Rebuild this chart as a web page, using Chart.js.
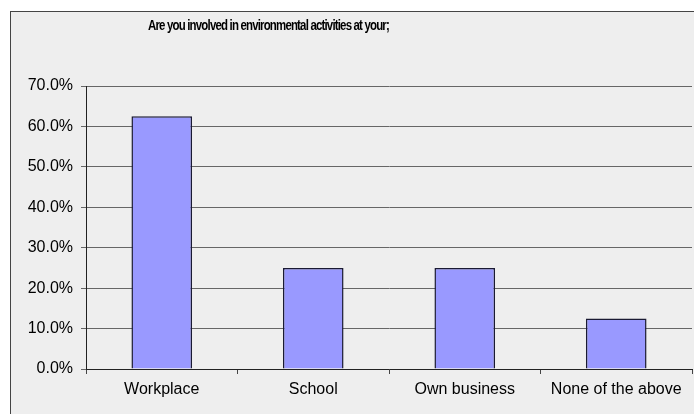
<!DOCTYPE html>
<html>
<head>
<meta charset="utf-8">
<script src="https://cdn.jsdelivr.net/npm/chart.js@4"></script>
<style>
  html, body { margin: 0; padding: 0; background: #fff; }
  #frame { position: absolute; left: 10px; top: 11px; width: 700px; height: 420px;
           border: 1px solid #444; background: #eeeeee; }
  #wrap { position: absolute; left: 0; top: 0; width: 694px; height: 414px; }
</style>
</head>
<body>
<div id="frame"></div>
<div id="wrap"><canvas id="chart"></canvas></div>
<script>
const TITLE = 'Are you involved in environmental activities at your;';
const categories = ['Workplace', 'School', 'Own business', 'None of the above'];
const shares = [62.5, 25.0, 25.0, 12.5];
const yTicks = [0, 10, 20, 30, 40, 50, 60, 70];

// the original title is a tightly spaced bold face, so draw it by hand
const tightTitle = {
  id: 'tightTitle',
  afterDraw(chart) {
    const c = chart.ctx;
    c.save();
    c.font = 'bold 14px Arial, "Liberation Sans", sans-serif';
    c.letterSpacing = '-1px';
    c.fillStyle = '#000';
    c.textBaseline = 'middle';
    const w = c.measureText(TITLE).width;
    c.translate(148, 26);
    c.scale(Math.min(1, 241 / w), 1);
    c.fillText(TITLE, 0, 0);
    c.restore();
  }
};

const ctx = document.getElementById('chart').getContext('2d');
new Chart(ctx, {
  type: 'bar',
  data: {
    labels: categories,
    datasets: [{
      data: shares,
      backgroundColor: '#9999ff',
      borderColor: '#1a1a33',
      borderWidth: 1.5,
      categoryPercentage: 1,
      barPercentage: 0.4
    }]
  },
  options: {
    responsive: true,
    maintainAspectRatio: false,
    animation: false,
    layout: { padding: { left: 0, right: 2, top: 86, bottom: 0 } },
    plugins: {
      legend: { display: false },
      tooltip: { enabled: false },
      title: { display: false }
    },
    scales: {
      x: {
        grid: { display: true, drawOnChartArea: false, drawTicks: true, tickLength: 5, color: '#444', offset: true },
        border: { display: true, color: '#222', width: 1 },
        ticks: { color: '#000', padding: 6, maxRotation: 0, font: { family: 'Arial, "Liberation Sans", sans-serif', size: 16 } },
        afterFit: s => { s.height = 45; }
      },
      y: {
        min: 0,
        max: 70,
        afterBuildTicks: s => { s.ticks = yTicks.map(v => ({ value: v })); },
        grid: { color: '#666', lineWidth: 1, drawTicks: true, tickLength: 5 },
        border: { display: true, color: '#222', width: 1 },
        ticks: {
          color: '#000', padding: 8,
          font: { family: 'Arial, "Liberation Sans", sans-serif', size: 16 },
          callback: v => v.toFixed(1) + '%'
        },
        afterFit: s => { s.width = 86; }
      }
    }
  },
  plugins: [tightTitle]
});
</script>
</body>
</html>
